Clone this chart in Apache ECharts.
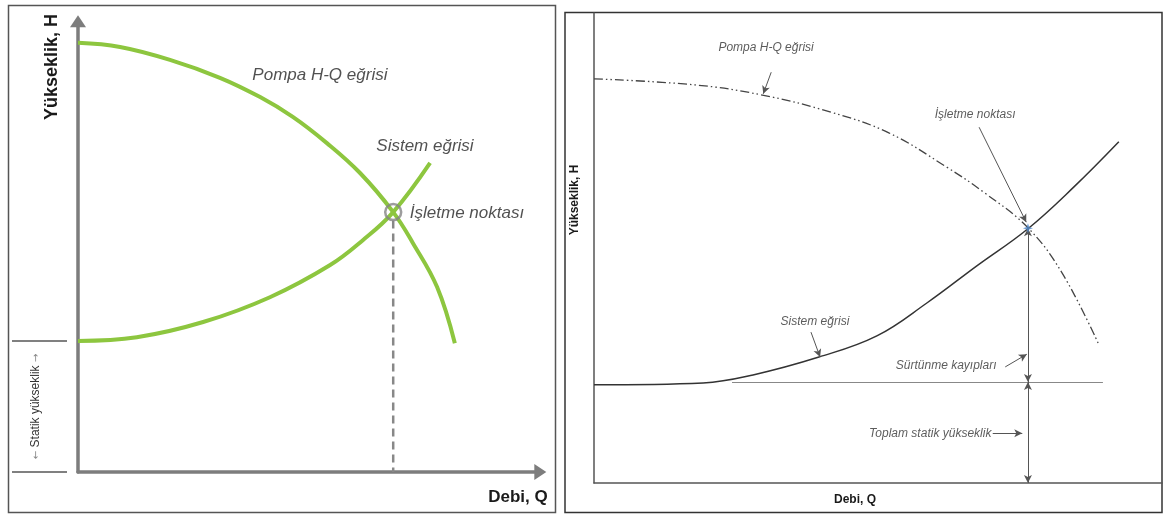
<!DOCTYPE html>
<html>
<head>
<meta charset="utf-8">
<script src="https://cdn.jsdelivr.net/npm/echarts@6/dist/echarts.min.js"></script>
<style>
    html, body { margin: 0; padding: 0; background: #fff; }
    #chart { width: 1166px; height: 516px; }
</style>
</head>
<body>
<div id="chart"></div>
<script>
// sol diyagram: Q ve H, 0-100 goreli birim
var pompaSol = [[0, 93.3], [9, 92.4], [19.7, 89.6], [30.4, 85.7], [39, 81.5], [46, 77.2], [53.3, 71.5], [60.4, 65], [67.5, 56.5], [71.7, 49.8], [76.9, 40.2], [80.7, 28]];
var sistemSol = [[0, 28.5], [12.6, 29.3], [26.8, 32.6], [41.1, 38], [54, 45], [61, 50.4], [67.5, 56.5], [75.4, 67.2]];
var isletmeSol = [67.5, 56.5];
var statikSol = 28.5;
var etiketSol = [
    { name: 'Pompa H-Q eğrisi', value: [51.8, 86.3] },
    { name: 'Sistem eğrisi', value: [74.3, 70.9] },
    { name: 'İşletme noktası', value: [83.3, 56.3] }
];

// sag diyagram
var pompaSag = [[0, 86], [17.8, 84.7], [29.4, 82.6], [41.7, 78.9], [51.9, 74.5], [62.1, 67.2], [68.8, 61.7], [76.4, 54.3], [82.4, 44.7], [88.9, 29.4]];
var sistemSag = [[0, 20.9], [19.2, 21.3], [28, 23], [39.6, 26.8], [49.8, 31.3], [58.6, 38.3], [67.4, 46.2], [76.4, 54.1], [84.5, 63], [92.4, 72.6]];
var isletmeSag = [76.4, 54.2];
var statikSag = 21.5;
var statikCizgiSag = [24.3, 89.6];
var etiketSag = [
    { name: 'Pompa H-Q eğrisi', value: [30.3, 92.6] },
    { name: 'İşletme noktası', value: [67.1, 78.3] },
    { name: 'Sistem eğrisi', value: [38.9, 34.3] },
    { name: 'Sürtünme kayıpları', value: [62, 24.9] },
    { name: 'Toplam statik yükseklik', value: [59.2, 10.6] }
];
// ok cizgileri [baslangic, bitis]
var okSag = [
    [[31.2, 87.4], [29.8, 82.8]],
    [[67.8, 75.7], [76.1, 55.5]],
    [[38.2, 32.1], [39.8, 26.8]],
    [[72.4, 24.7], [76.2, 27.4]],
    [[70.2, 10.6], [75.4, 10.6]]
];

var green = '#8dc63f';
var font = "'Liberation Sans', Arial, sans-serif";

function hiddenAxis(grid, max, lineStyle, symbol) {
    return {
        type: 'value', gridIndex: grid, min: 0, max: max,
        axisLabel: { show: false }, axisTick: { show: false }, splitLine: { show: false },
        axisLine: { show: true, onZero: false, lineStyle: lineStyle, symbol: symbol || 'none', symbolSize: [16, 12] }
    };
}

function curve(grid, data, lineStyle, z) {
    return {
        type: 'line', xAxisIndex: grid, yAxisIndex: grid, data: data,
        smooth: 0.4, showSymbol: false, lineStyle: lineStyle, z: z || 2
    };
}

function labelSeries(grid, data, size, color) {
    return {
        type: 'scatter', xAxisIndex: grid, yAxisIndex: grid, data: data,
        symbolSize: 1, itemStyle: { color: 'rgba(0,0,0,0)' }, silent: true, z: 10,
        label: {
            show: true, position: 'inside', formatter: '{b}',
            fontFamily: font, fontStyle: 'italic', fontSize: size, color: color
        }
    };
}

var myChart = echarts.init(document.getElementById('chart'));

var option = {
    animation: false,
    backgroundColor: '#fff',
    grid: [
        // eksen ucu ok basinin ortasinda, 4.67 / 4.6 px birim
        { left: 78, top: 21.2, width: 462.3, height: 450.8, outerBoundsMode: 'none' },
        { left: 594, top: 13, width: 568, height: 470, outerBoundsMode: 'none' }
    ],
    xAxis: [
        hiddenAxis(0, 99, { color: '#7d7d7d', width: 3.5 }, ['none', 'triangle']),
        hiddenAxis(1, 100, { color: '#555', width: 1.5 })
    ],
    yAxis: [
        hiddenAxis(0, 98, { color: '#7d7d7d', width: 3.5 }, ['none', 'triangle']),
        hiddenAxis(1, 100, { color: '#555', width: 1.5 })
    ],
    series: [
        // sol
        curve(0, pompaSol, { color: green, width: 4 }, 3),
        curve(0, sistemSol, { color: green, width: 4 }, 3),
        {
            // kesikli dusey cizgi, daire altindan baslar
            type: 'line', xAxisIndex: 0, yAxisIndex: 0,
            data: [[isletmeSol[0], isletmeSol[1] - 1.8], [isletmeSol[0], 0]],
            showSymbol: false, lineStyle: { color: '#888', width: 2.5, type: [8, 5] }, z: 2
        },
        {
            type: 'scatter', xAxisIndex: 0, yAxisIndex: 0, data: [isletmeSol],
            symbol: 'circle', symbolSize: 16,
            itemStyle: { color: 'rgba(0,0,0,0)', borderColor: '#858585', borderWidth: 2.5 }, z: 4
        },
        labelSeries(0, etiketSol, 17, '#262626'),

        // sag
        curve(1, pompaSag, { color: '#444', width: 1.3, type: [9, 3, 1.5, 3, 1.5, 3] }),
        Object.assign(curve(1, sistemSag, { color: '#333', width: 1.5 }), {
            markLine: {
                silent: true, animation: false,
                label: { show: false }, emphasis: { disabled: true },
                symbolSize: [6, 8],
                lineStyle: { color: '#555', width: 1, type: 'solid' },
                data: [
                    // statik yukseklik cizgisi
                    [{ coord: [statikCizgiSag[0], statikSag], symbol: 'none', lineStyle: { color: '#888' } },
                     { coord: [statikCizgiSag[1], statikSag], symbol: 'none' }],
                    // boyut cizgileri
                    [{ coord: isletmeSag, symbol: 'arrow' }, { coord: [isletmeSag[0], statikSag], symbol: 'arrow' }],
                    [{ coord: [isletmeSag[0], statikSag], symbol: 'arrow' }, { coord: [isletmeSag[0], 0], symbol: 'arrow' }]
                ].concat(okSag.map(function (o) {
                    return [{ coord: o[0], symbol: 'none' }, { coord: o[1], symbol: 'arrow' }];
                }))
            }
        }),
        {
            type: 'scatter', xAxisIndex: 1, yAxisIndex: 1, data: [isletmeSag],
            symbol: 'path://M5,0 L6.3,3.7 L10,5 L6.3,6.3 L5,10 L3.7,6.3 L0,5 L3.7,3.7 Z',
            symbolSize: 10, itemStyle: { color: '#4f86c6' }, z: 5
        },
        labelSeries(1, etiketSag, 12, '#333')
    ]
};

myChart.setOption(option);

// statik yukseklik isaretleri sol kenar bosluguna
var yStatik = myChart.convertToPixel({ gridIndex: 0 }, [0, statikSol])[1];
var ySifir = myChart.convertToPixel({ gridIndex: 0 }, [0, 0])[1];

myChart.setOption({
    graphic: [
        { type: 'rect', shape: { x: 8.5, y: 5.5, width: 547, height: 507 }, style: { fill: 'none', stroke: '#555', lineWidth: 1.5 }, silent: true },
        { type: 'rect', shape: { x: 565, y: 12.5, width: 597, height: 500 }, style: { fill: 'none', stroke: '#333', lineWidth: 1.5 }, silent: true },
        { type: 'line', shape: { x1: 12, y1: yStatik, x2: 67, y2: yStatik }, style: { stroke: '#808080', lineWidth: 2 } },
        { type: 'line', shape: { x1: 12, y1: ySifir, x2: 67, y2: ySifir }, style: { stroke: '#808080', lineWidth: 2 } },
        {
            type: 'text', x: 36, y: (yStatik + ySifir) / 2, rotation: Math.PI / 2,
            style: {
                text: '{a|←} Statik yükseklik {a|→}', align: 'center', verticalAlign: 'middle',
                font: '12px ' + font, fill: '#333',
                rich: { a: { fontSize: 10, fill: '#888', fontFamily: 'DejaVu Sans' } }
            }
        },
        {
            type: 'text', x: 52, y: 67, rotation: Math.PI / 2,
            style: { text: 'Yükseklik, H', align: 'center', verticalAlign: 'middle', font: 'bold 18px ' + font, fill: '#1a1a1a' }
        },
        {
            type: 'text', x: 518, y: 497,
            style: { text: 'Debi, Q', align: 'center', verticalAlign: 'middle', font: 'bold 17px ' + font, fill: '#1a1a1a' }
        },
        {
            type: 'text', x: 575, y: 200, rotation: Math.PI / 2,
            style: { text: 'Yükseklik, H', align: 'center', verticalAlign: 'middle', font: 'bold 12px ' + font, fill: '#1a1a1a' }
        },
        {
            type: 'text', x: 855, y: 500,
            style: { text: 'Debi, Q', align: 'center', verticalAlign: 'middle', font: 'bold 12px ' + font, fill: '#1a1a1a' }
        }
    ]
});
</script>
</body>
</html>
